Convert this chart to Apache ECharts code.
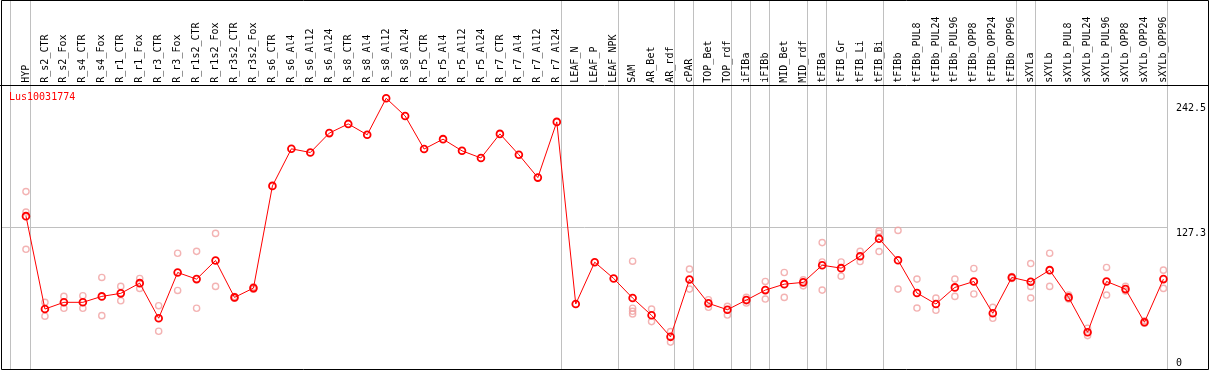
<!DOCTYPE html>
<html>
<head>
<meta charset="utf-8">
<script src="https://cdn.jsdelivr.net/npm/echarts@6/dist/echarts.min.js"></script>
<style>
html,body{margin:0;padding:0;background:#fff;}
#chart{width:1209px;height:370px;}
</style>
</head>
<body>
<div id="chart"></div>
<script>
const title = 'Lus10031774';
const categories = ['HYP','R_s2_CTR','R_s2_Fox','R_s4_CTR','R_s4_Fox','R_r1_CTR','R_r1_Fox','R_r3_CTR','R_r3_Fox','R_r1s2_CTR','R_r1s2_Fox','R_r3s2_CTR','R_r3s2_Fox','R_s6_CTR','R_s6_Al4','R_s6_Al12','R_s6_Al24','R_s8_CTR','R_s8_Al4','R_s8_Al12','R_s8_Al24','R_r5_CTR','R_r5_Al4','R_r5_Al12','R_r5_Al24','R_r7_CTR','R_r7_Al4','R_r7_Al12','R_r7_Al24','LEAF_N','LEAF_P','LEAF_NPK','SAM','AR_Bet','AR_rdf','cPAR','TOP_Bet','TOP_rdf','iFIBa','iFIBb','MID_Bet','MID_rdf','tFIBa','tFIB_Gr','tFIB_Li','tFIB_Bi','tFIBb','tFIBb_PUL8','tFIBb_PUL24','tFIBb_PUL96','tFIBb_OPP8','tFIBb_OPP24','tFIBb_OPP96','sXYLa','sXYLb','sXYLb_PUL8','sXYLb_PUL24','sXYLb_PUL96','sXYLb_OPP8','sXYLb_OPP24','sXYLb_OPP96'];
const means = [137.3,54.4,60.4,60.4,65.7,68.4,77.5,46.2,87.0,81.1,97.7,64.8,73.1,164.3,197.4,194.1,211.4,219.6,209.9,242.5,226.7,197.2,206.0,195.6,189.2,210.7,192.1,171.7,221.4,58.9,96.2,81.7,64.2,48.8,29.6,80.8,59.5,53.8,62.4,71.3,76.6,78.2,93.5,90.9,101.5,117.2,98.0,68.7,58.9,73.7,79.0,50.6,82.6,78.7,89.1,64.8,33.7,79.0,72.2,42.6,81.1];
const N = null;
const rep1 = [159.2,60.4,65.7,66.3,82.6,74.6,81.7,57.4,104.2,105.9,121.9,65.5,74.2,N,N,N,N,N,N,N,N,N,N,N,N,N,N,N,N,N,N,N,97.1,54.4,34.3,90.0,62.7,56.8,64.8,79.0,87.0,80.5,113.7,96.4,105.9,124.0,124.6,81.1,64.2,81.1,90.6,55.9,83.5,95.0,104.2,66.9,37.3,91.5,74.6,44.0,89.1];
const rep2 = [107.7,48.0,55.1,55.1,48.5,61.8,72.8,34.6,71.0,55.1,74.6,64.0,72.0,N,N,N,N,N,N,N,N,N,N,N,N,N,N,N,N,N,N,N,50.0,43.2,24.9,72.2,56.0,49.1,59.8,63.3,64.8,75.1,71.3,83.7,96.8,105.7,72.2,55.3,53.3,65.7,67.8,46.2,81.7,64.2,74.6,63.3,30.7,66.9,70.4,41.7,72.8];
const rep3 = [140.9,N,N,N,N,N,N,N,N,N,N,N,N,N,N,N,N,N,N,N,N,N,N,N,N,N,N,N,N,N,N,N,55.1,N,N,N,N,N,N,N,N,N,96.4,N,N,121.9,N,N,N,N,N,N,N,74.6,N,N,N,N,N,N,N];
const rep4 = [N,N,N,N,N,N,N,N,N,N,N,N,N,N,N,N,N,N,N,N,N,N,N,N,N,N,N,N,N,N,N,N,52.4,N,N,N,N,N,N,N,N,N,N,N,N,N,N,N,N,N,N,N,N,N,N,N,N,N,N,N,N];
const yTickValues = [0, 127.3, 242.5];
const gridValue = 127.3;
const groupEnds = [0,28,31,34,35,37,38,39,41,42,45,52,53,60];
const leadSeparator = -0.8;

const FONT = 'DejaVu Sans Mono';
const chart = echarts.init(document.getElementById('chart'), null, {renderer:'canvas'});

function repSeries(d){
  return {type:'scatter', data:d, xAxisIndex:0, yAxisIndex:0, symbol:'circle', symbolSize:6.2,
    itemStyle:{color:'rgba(0,0,0,0)', borderColor:'#f0a0a0', borderWidth:1.4}, z:2, silent:true};
}

chart.setOption({
  backgroundColor:'#ffffff',
  animation:false,
  title:{text:title, left:9, top:92, padding:0, textStyle:{color:'#ff0000', fontSize:10, fontWeight:'normal', fontFamily:FONT}},
  grid:{left:16.5, width:1159.6, top:84.7, height:286.6, containLabel:false},
  xAxis:{type:'category', data:categories, position:'top', boundaryGap:true,
    axisLine:{show:false}, axisTick:{show:false}, splitLine:{show:false},
    axisLabel:{rotate:90, margin:2, interval:0, fontSize:10, fontFamily:FONT, color:'#000'}},
  yAxis:{type:'value', position:'right', min:0, max:254.6,
    axisLine:{show:false}, axisTick:{show:false}, splitLine:{show:false},
    axisLabel:{customValues:yTickValues, margin:3, fontSize:10, fontFamily:FONT, color:'#000', align:'left',
      formatter:function(v){
        if (v === 0) return '{b|0}';
        if (v === 127.3) return '{m|127.3}';
        return '{t|' + v + '}';
      },
      rich:{
        t:{fontSize:10, fontFamily:FONT, color:'#000', padding:[21,0,0,0]},
        m:{fontSize:10, fontFamily:FONT, color:'#000', padding:[13,0,0,0]},
        b:{fontSize:10, fontFamily:FONT, color:'#000', padding:[0,0,13,0]}
      }}},
  series:[
    repSeries(rep1), repSeries(rep2), repSeries(rep3), repSeries(rep4),
    {type:'line', data:means, symbol:'circle', symbolSize:6.8, showAllSymbol:true,
     lineStyle:{color:'#ff0000', width:1}, itemStyle:{color:'rgba(0,0,0,0)', borderColor:'#ff0000', borderWidth:1.8},
     z:3, silent:true}
  ]
});

// structural lines positioned through the axes' scales
const x0 = chart.convertToPixel({xAxisIndex:0}, 0);
const x1 = chart.convertToPixel({xAxisIndex:0}, 1);
const step = x1 - x0;
const sepPos = [leadSeparator].concat(groupEnds.map(i => i + 0.23));
const gy = Math.floor(chart.convertToPixel({yAxisIndex:0}, gridValue)) + 0.5;
const graphics = [];
sepPos.forEach(p => {
  const x = Math.floor(x0 + p*step) + 0.5;
  graphics.push({type:'line', shape:{x1:x, y1:0, x2:x, y2:369}, style:{stroke:'#c0c0c0', lineWidth:1}, z:1, silent:true});
});
const rightX = Math.floor(x0 + 60.23*step) + 0.5;
graphics.push({type:'line', shape:{x1:1.5, y1:gy, x2:rightX, y2:gy}, style:{stroke:'#c0c0c0', lineWidth:1}, z:1, silent:true});
graphics.push({type:'line', shape:{x1:0, y1:85.5, x2:1209, y2:85.5}, style:{stroke:'#000', lineWidth:1}, z:5, silent:true});
graphics.push({type:'rect', shape:{x:1.5, y:0.5, width:1207, height:369}, style:{stroke:'#000', fill:null, lineWidth:1}, z:5, silent:true});
chart.setOption({graphic:graphics});
</script>
</body>
</html>
